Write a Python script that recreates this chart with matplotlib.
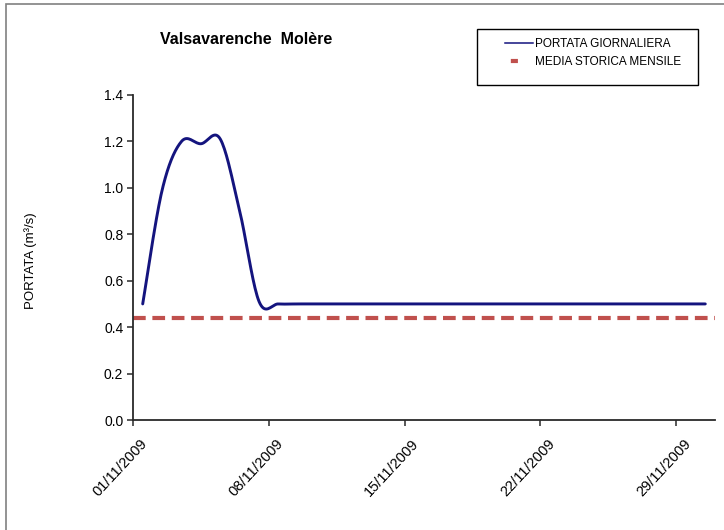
import numpy as np
import matplotlib
matplotlib.use('Agg')
import matplotlib.pyplot as plt
import matplotlib.dates as mdates
import matplotlib.transforms as mtransforms
from matplotlib.lines import Line2D
from matplotlib.patches import Rectangle
from datetime import datetime, timedelta

plt.rcParams['font.family'] = ['Liberation Sans', 'DejaVu Sans']

# daily flow, Nov 2009 (m3/s)
days = [datetime(2009, 11, 1) + timedelta(days=i) for i in range(30)]
portata = [0.50, 0.99, 1.20, 1.19, 1.21, 0.90, 0.51, 0.50, 0.50, 0.50,
           0.50, 0.50, 0.50, 0.50, 0.50, 0.50, 0.50, 0.50, 0.50, 0.50,
           0.50, 0.50, 0.50, 0.50, 0.50, 0.50, 0.50, 0.50, 0.50, 0.50]
media_storica = 0.44
tick_days = [datetime(2009, 11, d) for d in (1, 8, 15, 22, 29)]

title = 'Valsavarenche  Molère'
label_portata = 'PORTATA GIORNALIERA'
label_media = 'MEDIA STORICA MENSILE'

blu = '#14147e'
rosso = '#c0504d'


def smooth(x, y, n=20):
    # excel-like smoothed line (bezier through the points)
    x = np.asarray(x, float)
    y = np.asarray(y, float)
    xs, ys = [], []
    for i in range(len(x) - 1):
        x0, x3 = x[max(i - 1, 0)], x[min(i + 2, len(x) - 1)]
        y0, y3 = y[max(i - 1, 0)], y[min(i + 2, len(y) - 1)]
        x1, x2, y1, y2 = x[i], x[i + 1], y[i], y[i + 1]
        cx1, cy1 = x1 + (x2 - x0) / 6, y1 + (y2 - y0) / 6
        cx2, cy2 = x2 - (x3 - x1) / 6, y2 - (y3 - y1) / 6
        t = np.linspace(0, 1, n)
        xs.append((1-t)**3*x1 + 3*(1-t)**2*t*cx1 + 3*(1-t)*t**2*cx2 + t**3*x2)
        ys.append((1-t)**3*y1 + 3*(1-t)**2*t*cy1 + 3*(1-t)*t**2*cy2 + t**3*y2)
    return np.concatenate(xs), np.concatenate(ys)


fig = plt.figure(figsize=(7.24, 5.30), dpi=100)
ax = fig.add_axes([133/724, 1 - 420/530, 582/724, 325/530])

# points sit in the middle of each day
xnum = mdates.date2num(days) + 0.5
sx, sy = smooth(xnum, portata)
ax.plot(sx, sy, color=blu, lw=2.1, solid_capstyle='round')
ax.axhline(media_storica, color=rosso, lw=3.0,
           linestyle=(0, (3.05, 1.6)), dash_capstyle='butt')

ax.set_ylim(0, 1.4)
ax.set_yticks(np.arange(0, 1.41, 0.2))
ax.yaxis.set_major_formatter(plt.FormatStrFormatter('%.1f'))
ax.set_xlim(mdates.date2num(days[0]), mdates.date2num(days[-1]) + 1)
ax.set_xticks(mdates.date2num(tick_days))
ax.xaxis.set_major_formatter(mdates.DateFormatter('%d/%m/%Y'))

for s in ('top', 'right'):
    ax.spines[s].set_visible(False)
for s in ('left', 'bottom'):
    ax.spines[s].set_color('#2a2a2a')
    ax.spines[s].set_linewidth(1.3)
ax.tick_params(direction='out', length=4, width=1.1, color='#2a2a2a')
ax.tick_params(axis='y', labelsize=10, pad=3)
ax.tick_params(axis='x', labelsize=10.5, pad=4)
shift = mtransforms.ScaledTranslation(7/100, -5/100, fig.dpi_scale_trans)
for lab in ax.get_xticklabels():
    lab.set_rotation(47)
    lab.set_ha('right')
    lab.set_rotation_mode('anchor')
    lab.set_transform(lab.get_transform() + shift)

ax.set_ylabel('PORTATA (m³/s)', fontsize=9.5)
ax.yaxis.set_label_coords(-(133 - 37) / 582, 0.49)

fig.text(246/724, 1 - 40/530, title, fontsize=11.5, fontweight='bold',
         ha='center', va='center')

handles = [Line2D([], [], color=blu, lw=1.1),
           Line2D([], [], color=rosso, lw=3.0,
                  linestyle=(10.3, (1.7, 10)), dash_capstyle='butt')]
leg = fig.legend(handles, [label_portata, label_media],
                 loc='center left', bbox_to_anchor=(505/724, 1 - 53/530),
                 fontsize=8.5, frameon=False,
                 handlelength=2.37, handletextpad=0.17, labelspacing=0.5,
                 borderpad=0, borderaxespad=0)

# legend box
fig.patches.append(Rectangle((477/724, 1 - 85/530), 221/724, 56/530,
                             fill=False, edgecolor='black', lw=1.0,
                             transform=fig.transFigure))

# outer chart-area border
fig.patches.append(Rectangle((6/724, -0.1), 1.2, 1.1 - 4/530, fill=False,
                             edgecolor='#808080', lw=1.2,
                             transform=fig.transFigure))

fig.savefig('out.png', dpi=100)
